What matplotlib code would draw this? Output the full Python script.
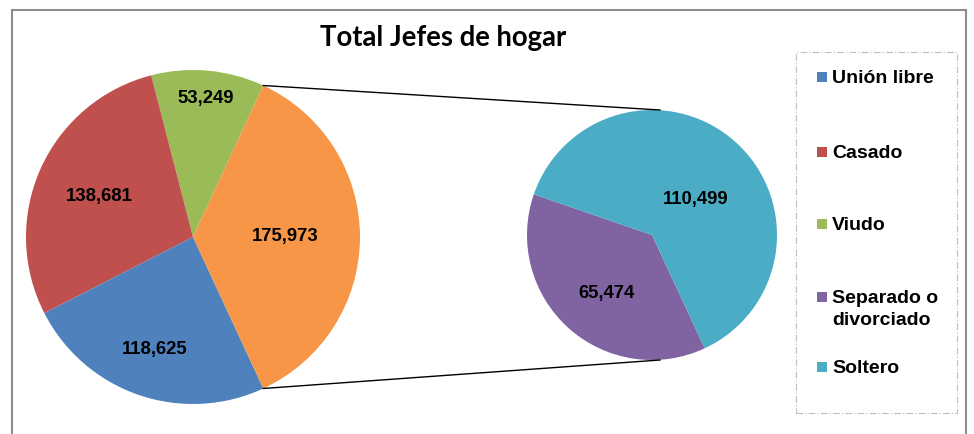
import matplotlib
matplotlib.use("Agg")
import matplotlib.pyplot as plt
from matplotlib.patches import Rectangle
import numpy as np

# ---- data ----
categories = ["Unión libre", "Casado", "Viudo", "Separado o\ndivorciado", "Soltero"]
main_labels = ["Viudo", "Casado", "Unión libre", "Otros"]
main_values = [53249, 138681, 118625, 175973]
sub_labels = ["Separado o\ndivorciado", "Soltero"]
sub_values = [65474, 110499]
title = "Total Jefes de hogar"

# ---- styling / layout ----
col = {"Unión libre": "#4F81BD", "Casado": "#C0504D", "Viudo": "#9BBB59",
       "Separado o\ndivorciado": "#8064A2", "Soltero": "#4BACC6", "Otros": "#F79646"}
W, H = 974, 434
fig = plt.figure(figsize=(W / 100, H / 100), dpi=100)
ax = fig.add_axes([0, 0, 1, 1])

lab_font = dict(family="Liberation Sans", weight="bold", size=13.3, color="black")
leg_font = dict(family="Liberation Sans", weight="bold", size=14, color="black")

# chart border
fig.patches.append(Rectangle((12 / W, -0.1), (966 - 12) / W, (H - 10) / H + 0.1,
                             transform=fig.transFigure, fill=False,
                             edgecolor="#8C8C8C", linewidth=1.5))

# main pie
c1 = (193, H - 237); r1 = 167
other_frac = main_values[-1] / sum(main_values)
start1 = other_frac * 180
w1, _ = ax.pie(main_values, colors=[col[l] for l in main_labels], startangle=start1,
               counterclock=True, center=c1, radius=r1, frame=True)
main_pos = [(0.83, 0), (0.61, 1), (0.71, 0), (0.55, 0)]
for w, v, (d, da) in zip(w1, main_values, main_pos):
    a = np.deg2rad((w.theta1 + w.theta2) / 2 + da)
    ax.text(c1[0] + d * r1 * np.cos(a), c1[1] + d * r1 * np.sin(a), f"{v:,}",
            ha="center", va="center", **lab_font)

# second pie
c2 = (652, H - 235); r2 = 125
w2, _ = ax.pie(sub_values, colors=[col[l] for l in sub_labels], startangle=161,
               counterclock=True, center=c2, radius=r2, frame=True)
sub_pos = [(0.59, 4), (0.45, -9)]
for w, v, (d, da) in zip(w2, sub_values, sub_pos):
    a = np.deg2rad((w.theta1 + w.theta2) / 2 + da)
    ax.text(c2[0] + d * r2 * np.cos(a), c2[1] + d * r2 * np.sin(a), f"{v:,}",
            ha="center", va="center", **lab_font)

# connector lines
ow = w1[-1]
for th, sgn in ((ow.theta2, 1), (ow.theta1, -1)):
    t = np.deg2rad(th)
    x0, y0 = c1[0] + r1 * np.cos(t), c1[1] + r1 * np.sin(t)
    ax.plot([x0, c2[0] + 8], [y0, c2[1] + sgn * r2], color="black", linewidth=1)

ax.set_xlim(0, W)
ax.set_ylim(0, H)
ax.set_aspect("equal")
ax.axis("off")

# title
fig.text(443 / W, 1 - 38 / H, title, ha="center", va="center",
         family="Lato", weight="bold", size=19.8)

# legend (manual)
fig.patches.append(Rectangle((796 / W, 1 - 413 / H), (957 - 796) / W, (413 - 52) / H,
                             transform=fig.transFigure, fill=False, edgecolor="#BFBFBF",
                             linewidth=0.8, linestyle=(0, (6, 2, 1, 2))))
leg_y = [77, 152, 224, 297, 367]
for name, yy in zip(categories, leg_y):
    fig.patches.append(Rectangle((817 / W, 1 - (yy + 4.5) / H), 9.5 / W, 9.5 / H,
                                 transform=fig.transFigure, facecolor=col[name],
                                 edgecolor="none"))
    fig.text(832 / W, 1 - (yy + 6) / H, name.split("\n")[0], ha="left", va="baseline",
             **leg_font)
    if "\n" in name:
        fig.text(832 / W, 1 - (yy + 28) / H, name.split("\n")[1], ha="left",
                 va="baseline", **leg_font)

fig.savefig("out.png", dpi=100)
